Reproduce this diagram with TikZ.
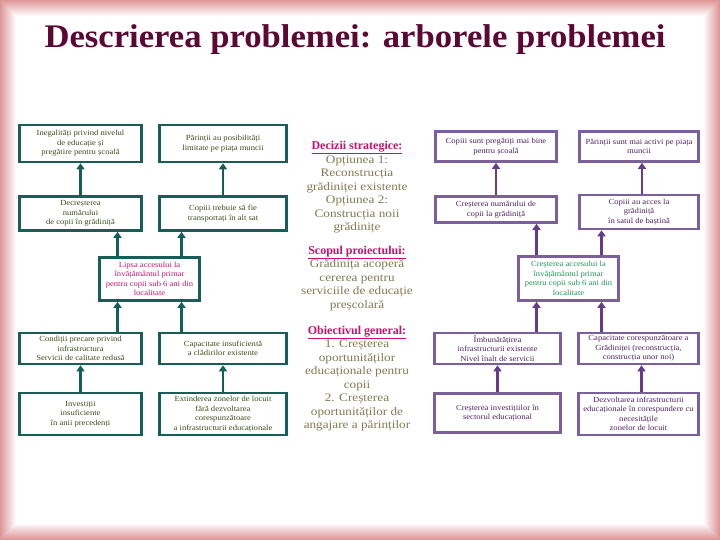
\documentclass[tikz,border=0pt]{standalone}
\usepackage{fontspec}
\setmainfont{Liberation Serif}
\newfontfamily\boxserif[FakeStretch=1.1]{Liberation Serif}
\newfontfamily\midserif[FakeStretch=1.15]{Liberation Serif}
\newfontfamily\titleserif[FakeStretch=1.05]{Liberation Serif}
\usepackage{tikz}
\usetikzlibrary{arrows.meta, positioning}
\definecolor{tealline}{RGB}{22,94,88}
\definecolor{olivetext}{RGB}{64,76,28}
\definecolor{causepink}{RGB}{196,24,112}
\definecolor{purpleline}{RGB}{124,96,158}
\definecolor{purplelink}{RGB}{104,58,140}
\definecolor{purpletext}{RGB}{80,34,96}
\definecolor{goalgreen}{RGB}{34,150,88}
\definecolor{midtext}{RGB}{128,122,84}
\definecolor{headpink}{RGB}{200,16,110}
\definecolor{titlered}{RGB}{92,8,52}
\definecolor{framepink}{RGB}{222,150,152}
\tikzset{
    causebox/.style={draw=tealline, line width=2.6pt, fill=white, align=center,
        inner sep=0pt, font=\boxserif\fontsize{7.8}{9.5}\selectfont, text=olivetext},
    goalbox/.style={draw=purpleline, line width=2.6pt, fill=white, align=center,
        inner sep=0pt, font=\boxserif\fontsize{7.8}{9.5}\selectfont, text=purpletext},
    midblock/.style={anchor=north, align=center, inner sep=0pt, text=midtext,
        font=\midserif\fontsize{11.5}{13.5}\selectfont},
}
\tikzstyle{uplink} = [-{Triangle[length=6pt,width=8pt]}, line width=2.6pt]
\newcommand{\midhead}[1]{{\rmfamily\bfseries\fontsize{12}{13.5}\selectfont\color{headpink}\underline{#1}}}

\begin{document}
\begin{tikzpicture}[x=1pt, y=-1pt]
    \useasboundingbox (0,0) rectangle (720,540);
    % frame
    \fill[framepink] (0,0) rectangle (720,540);
    \foreach \i in {1,...,16} {
        \pgfmathsetmacro\mix{100-\i*6.25}
        \fill[framepink!\mix!white] (\i,\i) rectangle ({720-\i},{540-\i});
    }
    \node[font=\titleserif\bfseries\fontsize{33}{36}\selectfont, text=titlered, anchor=base]
        (title) at (355,48) {Descrierea problemei: arborele problemei};

    % problem tree
    \node[causebox, minimum width=122pt, minimum height=37pt] (a1) at (80.5,143.5)
        {Inegalități privind nivelul\\de educație și\\pregătire pentru școală};
    \node[causebox, minimum width=127pt, minimum height=37pt] (a2) at (223,143.5)
        {Părinții au posibilități\\limitate pe piața muncii};
    \node[causebox, minimum width=122pt, minimum height=34pt] (b1) at (80.5,213.5)
        {Decreșterea\\numărului\\de copii în grădiniță};
    \node[causebox, minimum width=127pt, minimum height=34pt] (b2) at (223,213.5)
        {Copiii trebuie să fie\\transportați în alt sat};
    \node[causebox, minimum width=100pt, minimum height=43pt, text=causepink] (c) at (149.5,279)
        {Lipsa accesului la\\învățământul primar\\pentru copii sub 6 ani din\\localitate};
    \node[causebox, minimum width=122pt, minimum height=31pt] (d1) at (80.5,348.5)
        {Condiții precare privind\\infrastructura\\Servicii de calitate redusă};
    \node[causebox, minimum width=127pt, minimum height=31pt] (d2) at (223,348.5)
        {Capacitate insuficientă\\a clădirilor existente};
    \node[causebox, minimum width=122pt, minimum height=42pt] (e1) at (80.5,414)
        {Investiții\\insuficiente\\în anii precedenți};
    \node[causebox, minimum width=127pt, minimum height=42pt] (e2) at (223,414)
        {Extinderea zonelor de locuit\\fără dezvoltarea\\corespunzătoare\\a infrastructurii educaționale};

    \draw[uplink, tealline] (b1) -- (a1);
    \draw[uplink, tealline] (b2) -- (a2);
    \draw[uplink, tealline] ([xshift=-32pt]c.north) -- ([xshift=-32pt]c.north |- b1.south);
    \draw[uplink, tealline] ([xshift=32pt]c.north) -- ([xshift=32pt]c.north |- b2.south);
    \draw[uplink, tealline] ([xshift=-32pt]c.south |- d1.north) -- ([xshift=-32pt]c.south);
    \draw[uplink, tealline] ([xshift=32pt]c.south |- d2.north) -- ([xshift=32pt]c.south);
    \draw[uplink, tealline] (e1) -- (d1);
    \draw[uplink, tealline] (e2) -- (d2);

    % middle texts
    \node[midblock] (decizii) at (357,141)
        {\midhead{Decizii strategice:}\\Opțiunea 1:\\Reconstrucția\\grădiniței existente\\Opțiunea 2:\\Construcția noii\\grădinițe};
    \node[midblock] (scop) at (357,245.5)
        {\midhead{Scopul proiectului:}\\Grădinița acoperă\\cererea pentru\\serviciile de educație\\preșcolară};
    \node[midblock] (obiectiv) at (357,325.5)
        {\midhead{Obiectivul general:}\\1. Creșterea\\oportunităților\\educaționale pentru\\copii\\2. Creșterea\\oportunităților de\\angajare a părinților};

    % objective tree
    \node[goalbox, minimum width=121pt, minimum height=30pt] (f1) at (496,146.5)
        {Copiii sunt pregătiți mai bine\\pentru școală};
    \node[goalbox, minimum width=119pt, minimum height=30pt] (f2) at (639,146.5)
        {Părinții sunt mai activi pe piața\\muncii};
    \node[goalbox, minimum width=121pt, minimum height=26pt] (g1) at (496,209.5)
        {Creșterea numărului de\\copii la grădiniță};
    \node[goalbox, minimum width=119pt, minimum height=34pt] (g2) at (639,212)
        {Copiii au acces la\\grădiniță\\în satul de baștină};
    \node[goalbox, minimum width=100pt, minimum height=44pt, text=goalgreen] (h) at (568.5,278.5)
        {Creșterea accesului la\\învățământul primar\\pentru copii sub 6 ani din\\localitate};
    \node[goalbox, minimum width=126pt, minimum height=31pt] (i1) at (497.5,348.5)
        {Îmbunătățirea\\infrastructurii existente\\Nivel înalt de servicii};
    \node[goalbox, minimum width=120pt, minimum height=31pt] (i2) at (638.5,348.5)
        {Capacitate corespunzătoare a\\Grădiniței (reconstrucția,\\construcția unor noi)};
    \node[goalbox, minimum width=126pt, minimum height=39pt] (j1) at (497.5,413)
        {Creșterea investițiilor în\\sectorul educațional};
    \node[goalbox, minimum width=120pt, minimum height=42pt] (j2) at (638.5,414)
        {Dezvoltarea infrastructurii\\educaționale în corespundere cu\\necesitățile\\zonelor de locuit};

    \draw[uplink, purplelink] (g1) -- (f1);
    \draw[uplink, purplelink] ([xshift=3pt]g2.north) -- ([xshift=3pt]g2.north |- f2.south);
    \draw[uplink, purplelink] ([xshift=-32pt]h.north) -- ([xshift=-32pt]h.north |- g1.south);
    \draw[uplink, purplelink] ([xshift=33pt]h.north) -- ([xshift=33pt]h.north |- g2.south);
    \draw[uplink, purplelink] ([xshift=-32pt]h.south |- i1.north) -- ([xshift=-32pt]h.south);
    \draw[uplink, purplelink] ([xshift=33pt]h.south |- i2.north) -- ([xshift=33pt]h.south);
    \draw[uplink, purplelink] (j1) -- (i1);
    \draw[uplink, purplelink] ([xshift=3pt]j2.north) -- ([xshift=3pt]j2.north |- i2.south);
\end{tikzpicture}
\end{document}
